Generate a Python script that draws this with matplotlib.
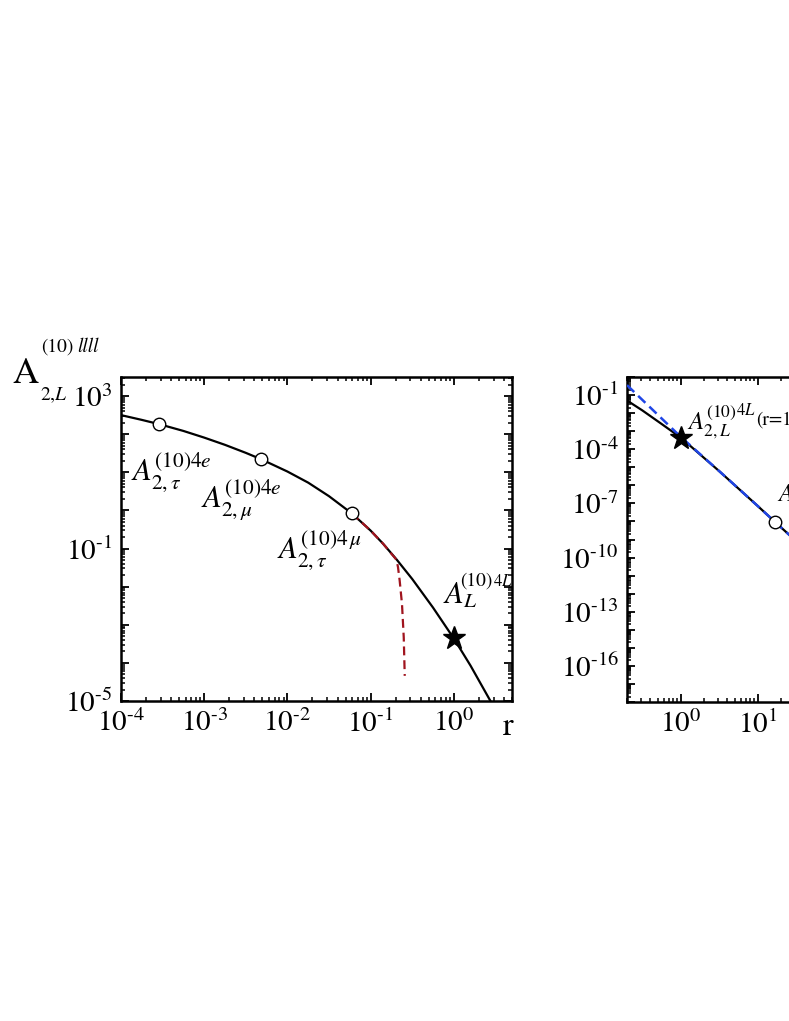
import numpy as np
import matplotlib
matplotlib.use("Agg")
import matplotlib.pyplot as plt
from matplotlib.ticker import LogLocator, NullFormatter

plt.rcParams["font.family"] = "STIXGeneral"
plt.rcParams["mathtext.fontset"] = "stix"

# left panel: A_2^(10) vs r
r_curve = [1e-4, 1.778e-4, 2.876e-4, 5.623e-4, 1e-3, 1.778e-3, 3.162e-3, 4.836e-3,
           1e-2, 1.778e-2, 3.162e-2, 5.946e-2, 0.1, 0.1413, 0.2056, 0.3162,
           0.5623, 1.0, 1.585, 2.754]
a_curve = [316.2, 237.1, 183.2, 121.6, 81.28, 52.48, 32.36, 21.98,
           10.47, 5.346, 2.360, 0.8337, 0.2951, 0.1334, 0.0513, 0.01585,
           2.818e-3, 4.365e-4, 8.511e-5, 1.0e-5]

r_expand = [0.05946, 0.1, 0.1413, 0.2046, 0.2133, 0.2234, 0.2382, 0.2500, 0.2570]
a_expand = [0.8337, 0.2951, 0.1334, 0.0505, 0.0324, 0.01445, 3.49e-3, 4.68e-4, 4.57e-5]

r_circles = [2.876e-4, 4.836e-3, 5.946e-2]
a_circles = [183.2, 21.98, 0.8337]
r_star = [1.0]
a_star = [4.365e-4]

# right panel: large r
r_big = [0.2, 0.3162, 0.5623, 1.0, 3.162, 10.0, 16.82, 31.62]
a_big = [0.0501, 0.01413, 2.512e-3, 4.365e-4, 6.03e-6, 7.08e-8, 9.12e-9, 7.94e-10]
r_asym = [0.2, 1.0, 3.162, 10.0, 16.82, 31.62]
a_asym = [0.355, 4.79e-4, 6.03e-6, 7.08e-8, 9.12e-9, 7.94e-10]
r_circ_big = [16.82]
a_circ_big = [9.12e-9]

W, H = 789, 1021
fig = plt.figure(figsize=(W / 100, H / 100), dpi=100)
ax1 = fig.add_axes([121 / W, 1 - 701 / H, 391 / W, 324 / H])
ax2 = fig.add_axes([627 / W, 1 - 702 / H, 385 / W, 325 / H])


def pow10(k):
    # short hyphen in the exponent, like the original
    if k < 0:
        return r"$10^{\text{-}%d}$" % (-k)
    return r"$10^{%d}$" % k


def style_axes(ax):
    ax.set_xscale("log")
    ax.set_yscale("log")
    for s in ax.spines.values():
        s.set_linewidth(1.8)
    ax.tick_params(which="both", direction="in", top=True, right=True,
                   labelsize=21, pad=6)
    ax.tick_params(which="major", length=5.5, width=1.3)
    ax.tick_params(which="minor", length=3, width=1.1)
    ax.xaxis.set_minor_locator(LogLocator(base=10, subs=np.arange(2, 10) * 1.0, numticks=100))
    ax.yaxis.set_minor_locator(LogLocator(base=10, subs=np.arange(2, 10) * 1.0, numticks=100))
    ax.xaxis.set_minor_formatter(NullFormatter())
    ax.yaxis.set_minor_formatter(NullFormatter())


def decade_labels(ax, lo, hi, every, ref):
    exps = list(range(lo, hi + 1))
    ax.set_yticks([10.0 ** k for k in exps])
    ax.set_yticklabels([pow10(k) if (k - ref) % every == 0 else "" for k in exps])


# ---- left panel
style_axes(ax1)
ax1.set_xlim(1e-4, 5)
ax1.set_ylim(1e-5, 10 ** 3.5)
ax1.set_xticks([10.0 ** k for k in range(-4, 1)])
ax1.set_xticklabels([pow10(k) for k in range(-4, 1)])
decade_labels(ax1, -5, 3, 4, 3)

ax1.plot(r_curve, a_curve, color="black", lw=1.6, zorder=3)
ax1.plot(r_expand, a_expand, color="#a0141e", lw=1.6, dashes=(4, 2.2), zorder=4)
ax1.plot(r_circles, a_circles, "o", ms=9, mfc="white", mec="black", mew=1.0, zorder=5)
ax1.plot(r_star, a_star, "*", ms=17, color="black", zorder=5)

ax1.text(1.32e-4, 6.2, r"$A^{\mathit{(10)4e}}_{2,\tau}$", fontsize=22, va="baseline")
ax1.text(9.2e-4, 1.13, r"$A^{\mathit{(10)4e}}_{2,\mu}$", fontsize=22, va="baseline")
ax1.text(7.4e-3, 0.0546, r"$A^{\mathit{(10)4}\,\mu}_{2,\tau}$", fontsize=22, va="baseline")
lab = (0.736, 3.57e-3)
ax1.annotate(r"$A_{L}$", xy=lab, fontsize=22, va="baseline", annotation_clip=False)
ax1.annotate("(10)", xy=lab, xytext=(12.5, 13), textcoords="offset points",
             fontsize=14, va="baseline")
ax1.annotate(r"$\mathit{4L}$", xy=lab, xytext=(36, 13),
             textcoords="offset points", fontsize=12, va="baseline", clip_on=True)

# ---- right panel
style_axes(ax2)
ax2.set_xlim(0.2, 10 ** 4.3)
ax2.set_ylim(1e-18, 1.0)
ax2.set_xticks([10.0 ** k for k in range(0, 5)])
ax2.set_xticklabels([pow10(k) for k in range(0, 5)])
decade_labels(ax2, -18, 0, 3, -1)

ax2.plot(r_big, a_big, color="black", lw=1.6, zorder=3)
ax2.plot(r_asym, a_asym, color="#1f45e6", lw=1.8, dashes=(4, 2.2), zorder=4)
ax2.plot(r_circ_big, a_circ_big, "o", ms=9, mfc="white", mec="black", mew=1.0, zorder=5)
ax2.plot(r_star, a_star, "*", ms=17, color="black", zorder=5)

ax2.annotate(r"$A^{(10)}_{2,L}$", xy=(1.2, 1.15e-3), fontsize=18, va="baseline")
ax2.annotate(r"$\mathit{4L}$", xy=(1.2, 1.15e-3), xytext=(35, 11),
             textcoords="offset points", fontsize=12, va="baseline")
ax2.annotate("(r=1)", xy=(1.2, 1.15e-3), xytext=(50, 4),
             textcoords="offset points", fontsize=14, va="baseline")
ax2.annotate(r"$A^{(10)}_{2,L}$", xy=(17.6, 1.2e-7), fontsize=18, va="baseline")

# axis titles
fig.text(12 / W, 1 - 383 / H, "A", fontsize=26, va="baseline")
fig.text(41 / W, 1 - 352 / H, "(10)", fontsize=14, va="baseline")
fig.text(77 / W, 1 - 352 / H, "llll", fontsize=14, style="italic", va="baseline")
fig.text(40 / W, 1 - 400 / H, r"2,$\mathit{L}$", fontsize=14, va="baseline")
fig.text(503 / W, 1 - 735 / H, "r", fontsize=23, va="baseline")

fig.savefig("out.png", dpi=100)
